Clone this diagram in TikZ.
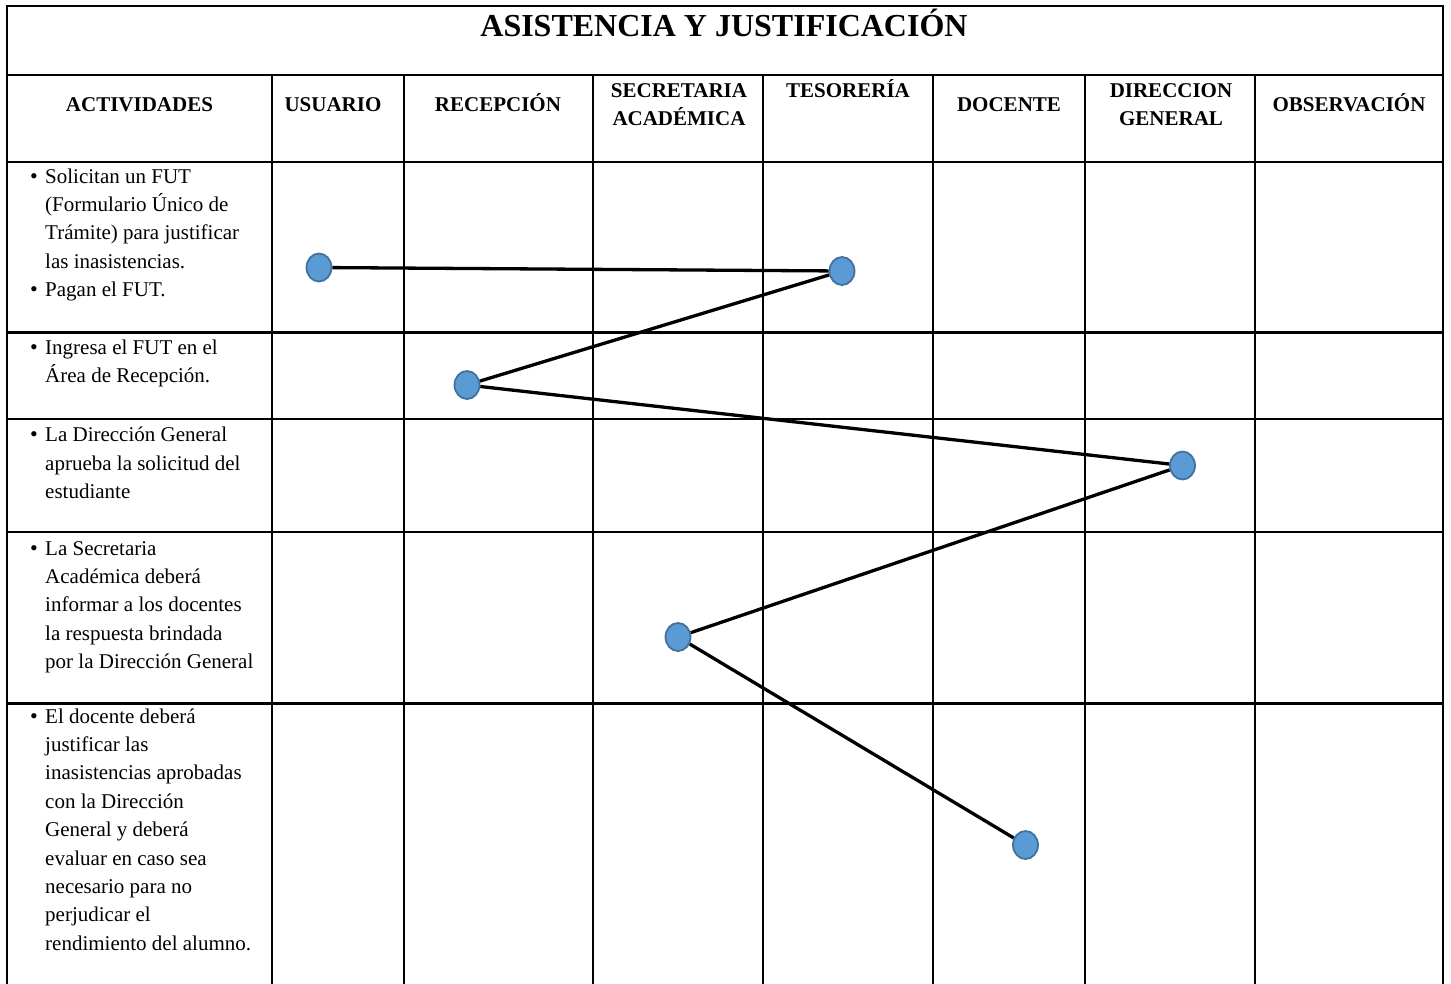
\documentclass[tikz,border=0pt]{standalone}
\usepackage{fontspec}
\setmainfont{Liberation Serif}
\usetikzlibrary{shapes.geometric}
\definecolor{dotfill}{HTML}{5B9BD5}
\definecolor{dotline}{HTML}{41719C}
\newcommand{\cellbox}[1]{\parbox[t]{230pt}{\raggedright #1}}
\newcommand{\hstack}[1]{{\setlength{\tabcolsep}{0pt}\begin{tabular}[t]{c}#1\end{tabular}}}
\tikzset{
  grid/.style={line width=2.3pt, line cap=rect},
  hdr/.style={font=\fontsize{21}{28.4}\selectfont\bfseries, inner sep=0pt, anchor=base},
  body/.style={font=\fontsize{21}{28.4}\selectfont, inner sep=0pt, anchor=base west},
  bul/.style={font=\fontsize{22}{28.4}\selectfont, inner sep=0pt, anchor=base},
  dot/.style={ellipse, draw=dotline, fill=dotfill, line width=1.8pt, minimum width=25pt, minimum height=28pt, inner sep=0pt},
  link/.style={line width=3.3pt, draw=black}
}
\begin{document}
\begin{tikzpicture}[x=1pt,y=-1pt]
\useasboundingbox (0,0) rectangle (1451,983);
% grid
\draw[grid] (7,983) -- (7,6) -- (1443,6) -- (1443,983);
\foreach \yy in {75,162,332.5,419,532,703.5}{\draw[grid] (7,\yy) -- (1443,\yy);}
\foreach \xx in {272,404,593,763,933,1085,1255}{\draw[grid] (\xx,75) -- (\xx,983);}
% title
\node[font=\fontsize{32}{38}\selectfont\bfseries, inner sep=0pt, anchor=base] (title) at (724,36) {ASISTENCIA Y JUSTIFICACIÓN};
% headers
\node[hdr] (hact) at (139.5,111) {ACTIVIDADES};
\node[hdr] (husu) at (333,111) {USUARIO};
\node[hdr] (hrec) at (498,111) {RECEPCIÓN};
\node[hdr] (hsec) at (679,97) {\hstack{SECRETARIA\\ACADÉMICA}};
\node[hdr] (htes) at (848,97) {TESORERÍA};
\node[hdr] (hdoc) at (1009,111) {DOCENTE};
\node[hdr] (hdir) at (1171,97) {\hstack{DIRECCION\\GENERAL}};
\node[hdr] (hobs) at (1349,111) {OBSERVACIÓN};
% activities
\node[bul] (b1) at (34,183) {•};
\node[body] (t1) at (45,183) {\cellbox{Solicitan un FUT\\(Formulario Único de\\Trámite) para justificar\\las inasistencias.}};
\node[bul] (b2) at (34,296.7) {•};
\node[body] (t2) at (45,296.7) {\cellbox{Pagan el FUT.}};
\node[bul] (b3) at (34,354) {•};
\node[body] (t3) at (45,354) {\cellbox{Ingresa el FUT en el\\Área de Recepción.}};
\node[bul] (b4) at (34,441.7) {•};
\node[body] (t4) at (45,441.7) {\cellbox{La Dirección General\\aprueba la solicitud del\\estudiante}};
\node[bul] (b5) at (34,555) {•};
\node[body] (t5) at (45,555) {\cellbox{La Secretaria\\Académica deberá\\informar a los docentes\\la respuesta brindada\\por la Dirección General}};
\node[bul] (b6) at (34,723) {•};
\node[body] (t6) at (45,723) {\cellbox{El docente deberá\\justificar las\\inasistencias aprobadas\\con la Dirección\\General y deberá\\evaluar en caso sea\\necesario para no\\perjudicar el\\rendimiento del alumno.}};
% dots
\node[dot] (d1) at (319,267.5) {};
\node[dot] (d2) at (842,271) {};
\node[dot] (d3) at (467,385) {};
\node[dot] (d4) at (1182.5,465.5) {};
\node[dot] (d5) at (678,637) {};
\node[dot] (d6) at (1025.5,845) {};
% links
\draw[link] (d1) -- (d2);
\draw[link] (d2) -- (d3);
\draw[link] (d3) -- (d4);
\draw[link] (d4) -- (d5);
\draw[link] (d5) -- (d6);
\end{tikzpicture}
\end{document}
